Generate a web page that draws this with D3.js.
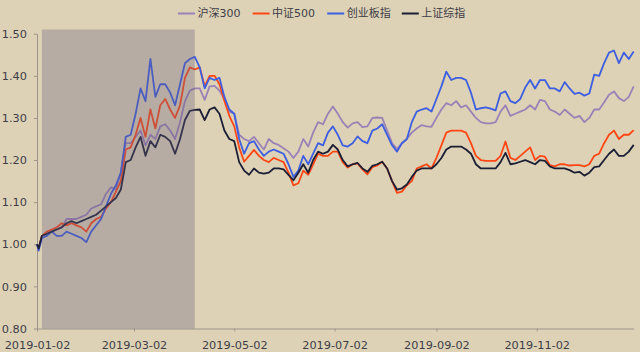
<!DOCTYPE html>
<html><head><meta charset="utf-8">
<script src="https://cdn.jsdelivr.net/npm/d3@7/dist/d3.min.js"></script>
<style>html,body{margin:0;padding:0;background:#ddd2b6;} svg{display:block;}</style>
</head><body>
<svg id="chart" width="640" height="352"></svg>
<script>
const dates = ["2019-01-02","2019-01-03","2019-01-05","2019-01-08","2019-01-11","2019-01-14","2019-01-17","2019-01-20","2019-01-23","2019-01-26","2019-01-29","2019-02-01","2019-02-04","2019-02-07","2019-02-10","2019-02-13","2019-02-16","2019-02-19","2019-02-22","2019-02-25","2019-02-28","2019-03-03","2019-03-06","2019-03-09","2019-03-12","2019-03-15","2019-03-18","2019-03-21","2019-03-24","2019-03-27","2019-03-30","2019-04-02","2019-04-05","2019-04-08","2019-04-11","2019-04-14","2019-04-17","2019-04-20","2019-04-23","2019-04-26","2019-04-29","2019-05-02","2019-05-05","2019-05-08","2019-05-11","2019-05-14","2019-05-17","2019-05-20","2019-05-23","2019-05-26","2019-05-29","2019-06-01","2019-06-04","2019-06-07","2019-06-10","2019-06-13","2019-06-16","2019-06-19","2019-06-22","2019-06-25","2019-06-28","2019-07-01","2019-07-04","2019-07-07","2019-07-10","2019-07-13","2019-07-16","2019-07-19","2019-07-22","2019-07-25","2019-07-28","2019-07-31","2019-08-03","2019-08-06","2019-08-09","2019-08-12","2019-08-15","2019-08-18","2019-08-21","2019-08-24","2019-08-27","2019-08-30","2019-09-02","2019-09-05","2019-09-08","2019-09-11","2019-09-14","2019-09-17","2019-09-20","2019-09-23","2019-09-26","2019-09-29","2019-10-02","2019-10-05","2019-10-08","2019-10-11","2019-10-14","2019-10-17","2019-10-20","2019-10-23","2019-10-26","2019-10-29","2019-11-01","2019-11-04","2019-11-07","2019-11-10","2019-11-13","2019-11-16","2019-11-19","2019-11-22","2019-11-25","2019-11-28","2019-12-01","2019-12-04","2019-12-07","2019-12-10","2019-12-13","2019-12-16","2019-12-19","2019-12-22","2019-12-25","2019-12-28","2019-12-31"];

const hs300 = [1.00,0.99,1.02,1.025,1.03,1.035,1.04,1.06,1.06,1.06,1.065,1.07,1.085,1.09,1.095,1.12,1.135,1.13,1.17,1.24,1.24,1.255,1.27,1.235,1.26,1.25,1.28,1.285,1.27,1.25,1.29,1.34,1.365,1.37,
1.37,1.343,1.375,1.376,1.365,1.345,1.315,1.31,1.26,1.25,1.245,1.255,1.24,1.225,1.25,1.24,1.236,1.228,1.22,1.205,1.22,1.25,1.232,1.265,1.29,1.285,1.31,1.327,
1.31,1.29,1.277,1.287,1.29,1.278,1.28,1.30,1.301,1.30,1.27,1.24,1.226,1.24,1.25,1.265,1.275,1.283,1.28,1.279,1.30,1.32,1.335,1.33,1.34,1.325,1.33,1.315,1.30,1.29,1.287,
1.287,1.29,1.315,1.33,1.305,1.31,1.315,1.32,1.33,1.32,1.343,1.34,1.32,1.315,1.307,1.32,1.31,1.30,1.305,1.29,1.30,1.32,1.32,1.337,1.355,1.363,1.347,1.34,1.35,1.375];

const zz500 = [1.00,0.99,1.02,1.03,1.035,1.04,1.05,1.045,1.05,1.045,1.04,1.03,1.05,1.06,1.065,1.085,1.10,1.125,1.15,1.225,1.23,1.26,1.30,1.255,1.32,1.275,1.33,1.345,1.32,1.30,1.33,1.395,1.42,1.415,
1.42,1.375,1.40,1.40,1.38,1.34,1.305,1.28,1.23,1.196,1.21,1.224,1.21,1.20,1.195,1.205,1.20,1.195,1.17,1.14,1.145,1.175,1.165,1.19,1.215,1.21,1.21,1.22,
1.22,1.195,1.182,1.19,1.192,1.178,1.166,1.183,1.187,1.196,1.18,1.15,1.122,1.125,1.14,1.15,1.18,1.185,1.19,1.18,1.205,1.235,1.265,1.27,1.27,1.27,1.265,1.24,1.21,1.20,1.198,
1.198,1.198,1.21,1.244,1.205,1.20,1.21,1.22,1.23,1.20,1.21,1.208,1.188,1.185,1.19,1.19,1.187,1.188,1.188,1.185,1.19,1.21,1.215,1.24,1.26,1.27,1.25,1.26,1.26,1.271];

const cyb = [1.00,0.985,1.015,1.02,1.03,1.02,1.02,1.03,1.025,1.02,1.015,1.005,1.03,1.045,1.06,1.09,1.12,1.14,1.17,1.255,1.26,1.31,1.37,1.34,1.44,1.35,1.38,1.38,1.36,1.33,1.38,1.43,1.44,1.445,
1.42,1.37,1.395,1.39,1.395,1.35,1.32,1.31,1.25,1.215,1.24,1.245,1.225,1.21,1.22,1.225,1.22,1.215,1.19,1.16,1.175,1.21,1.19,1.215,1.24,1.235,1.265,1.28,
1.26,1.235,1.232,1.24,1.256,1.245,1.24,1.27,1.275,1.285,1.26,1.235,1.22,1.24,1.25,1.29,1.315,1.32,1.323,1.315,1.345,1.375,1.41,1.39,1.395,1.395,1.39,1.36,1.32,1.323,1.325,
1.322,1.318,1.358,1.363,1.34,1.335,1.345,1.372,1.39,1.37,1.39,1.39,1.37,1.37,1.363,1.385,1.37,1.357,1.36,1.353,1.358,1.403,1.40,1.43,1.455,1.46,1.43,1.455,1.44,1.458];

const szzs = [1.00,0.99,1.02,1.025,1.03,1.035,1.04,1.05,1.055,1.05,1.055,1.06,1.065,1.07,1.08,1.09,1.10,1.11,1.13,1.195,1.20,1.23,1.255,1.21,1.245,1.23,1.26,1.255,1.245,1.215,1.25,1.295,1.317,1.319,
1.32,1.295,1.32,1.325,1.31,1.27,1.25,1.245,1.195,1.175,1.165,1.18,1.17,1.168,1.17,1.18,1.18,1.178,1.165,1.152,1.17,1.19,1.17,1.20,1.22,1.215,1.22,1.236,
1.225,1.20,1.185,1.19,1.193,1.18,1.172,1.186,1.19,1.196,1.18,1.15,1.13,1.133,1.142,1.16,1.175,1.18,1.18,1.18,1.19,1.205,1.225,1.232,1.232,1.232,1.225,1.215,1.19,1.18,1.18,
1.18,1.18,1.195,1.217,1.19,1.192,1.196,1.20,1.195,1.19,1.20,1.198,1.185,1.18,1.18,1.18,1.176,1.17,1.172,1.163,1.17,1.183,1.185,1.20,1.215,1.225,1.21,1.21,1.22,1.236];

const seriesNames = ["沪深300","中证500","创业板指","上证综指"];
const seriesColors = ["#9b82b6","#ff4716","#3d5ee0","#1b1e34"];
const yTicks = [0.80,0.90,1.00,1.10,1.20,1.30,1.40,1.50];
const xTickLabels = ["2019-01-02","2019-03-02","2019-05-02","2019-07-02","2019-09-02","2019-11-02"];
const xDomain = ["2019-01-02","2019-12-31"];
const shadeRange = ["2019-01-05","2019-04-08"];
const shadeTop = 1.51;

const parse = d3.timeParse("%Y-%m-%d");
const svg = d3.select("#chart");
const font = "'DejaVu Sans','Noto Sans CJK SC',sans-serif";

const x = d3.scaleTime().domain(xDomain.map(parse)).range([37, 633.7]);
const y = d3.scaleLinear().domain([0.80, 1.50]).range([328.5, 33.7]);

// axes
const yAxis = d3.axisLeft(y).tickValues(yTicks).tickFormat(d3.format(".2f")).tickSize(3).tickSizeOuter(0).tickPadding(7);
const gy = svg.append("g").attr("transform", "translate(37,0)").call(yAxis);
const xAxis = d3.axisBottom(x).tickValues(xTickLabels.map(parse)).tickFormat(d3.timeFormat("%Y-%m-%d")).tickSize(3).tickSizeOuter(0).tickPadding(9);
const gx = svg.append("g").attr("transform", "translate(0,328.5)").call(xAxis);
[gx, gy].forEach(g => {
  g.select(".domain").attr("stroke", "#9c968a").attr("stroke-width", 1);
  g.selectAll(".tick line").attr("stroke", "#9c968a");
  g.selectAll("text").attr("fill", "#3e3d46").style("font-family", font).style("font-size", "11.3px");
});

// lines
const allSeries = [hs300, zz500, cyb, szzs];
const parsedDates = dates.map(parse);
const line = d3.line().x((d, i) => x(parsedDates[i])).y(d => y(d));
allSeries.forEach((s, i) => {
  svg.append("path").datum(s).attr("d", line)
    .attr("fill", "none").attr("stroke", seriesColors[i])
    .attr("stroke-width", 1.8).attr("stroke-linejoin", "round");
});

// shaded overlay period
svg.append("rect")
  .attr("x", x(parse(shadeRange[0])))
  .attr("width", x(parse(shadeRange[1])) - x(parse(shadeRange[0])))
  .attr("y", y(shadeTop))
  .attr("height", y(0.80) - y(shadeTop))
  .attr("fill", "rgb(105,93,125)").attr("fill-opacity", 0.33);

// legend
const legend = svg.append("g");
seriesNames.forEach((name, i) => {
  const x0 = 178 + i * 74.6;
  legend.append("line").attr("x1", x0).attr("x2", x0 + 17).attr("y1", 13.5).attr("y2", 13.5)
    .attr("stroke", seriesColors[i]).attr("stroke-width", 2);
  legend.append("text").attr("x", x0 + 19.5).attr("y", 13.5).attr("dy", "0.36em")
    .attr("fill", "#3e3d46").style("font-family", font).style("font-size", "11px").text(name);
});
</script>
</body></html>
